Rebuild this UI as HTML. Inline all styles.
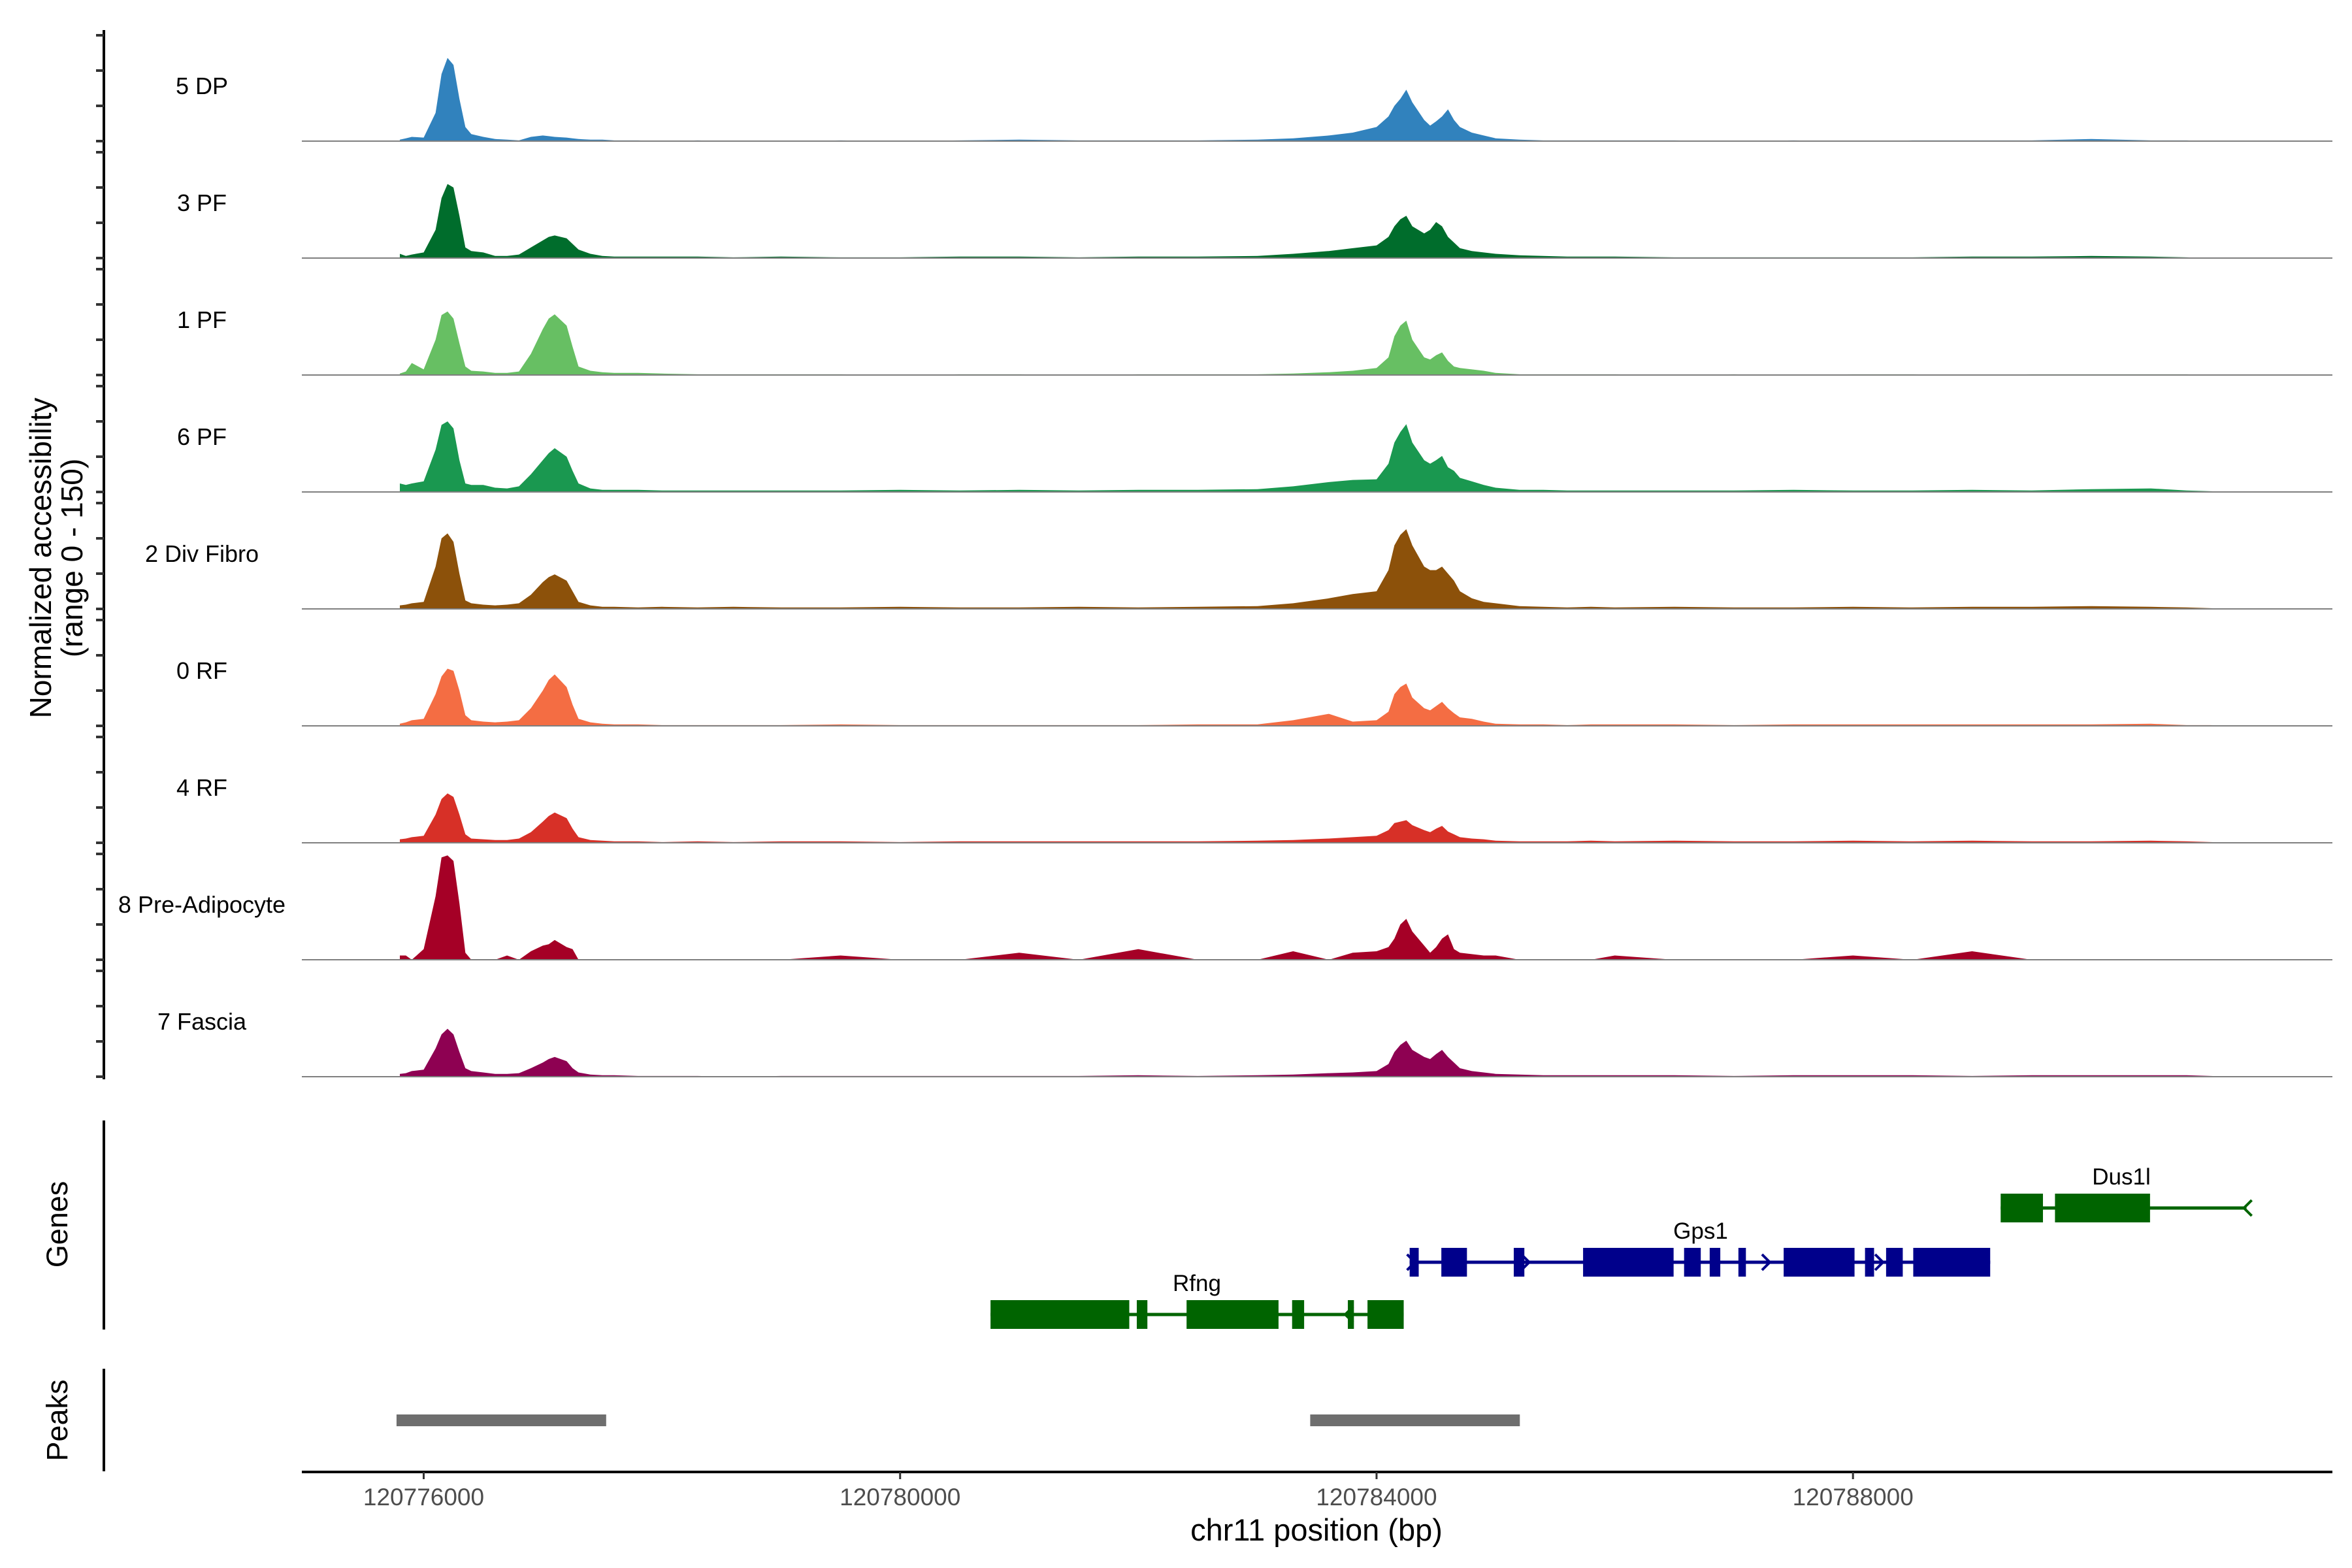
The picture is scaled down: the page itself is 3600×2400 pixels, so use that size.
<!DOCTYPE html>
<html><head><meta charset="utf-8"><style>
html,body{margin:0;padding:0;background:#fff;}
svg{display:block;font-family:"Liberation Sans",sans-serif;}
</style></head><body>
<svg id="chart" width="3600" height="2400" viewBox="0 0 3600 2400" xmlns="http://www.w3.org/2000/svg">
<rect width="3600" height="2400" fill="#fff"/>
<g id="tracks"></g>
<g id="genes"></g>
<g id="peaks"></g>
<g id="axes"></g>
<text transform="translate(78,854) rotate(-90)" text-anchor="middle" font-size="46" fill="#000">Normalized accessibility</text>
<text transform="translate(126,854) rotate(-90)" text-anchor="middle" font-size="46" fill="#000">(range 0 - 150)</text>
<text transform="translate(103,1874) rotate(-90)" text-anchor="middle" font-size="45" fill="#000">Genes</text>
<text transform="translate(103,2174) rotate(-90)" text-anchor="middle" font-size="45" fill="#000">Peaks</text>
<text x="2015" y="2358" text-anchor="middle" font-size="47" fill="#000">chr11 position (bp)</text>
</svg>
<script>
const START = 120775000;
const positions = [800,850,900,1000,1100,1150,1200,1250,1300,1350,1400,1500,1600,1700,1800,1900,2000,2050,2100,2200,2250,2300,2400,2500,2600,2800,3000,3300,3600,4000,4500,5000,5500,6000,6500,7000,7500,8000,8300,8600,8800,9000,9100,9150,9200,9250,9300,9400,9450,9500,9550,9600,9650,9700,9800,9900,10000,10200,10400,10600,10800,11000,11500,12000,12500,13000,13500,14000,14500,15000,15500,15800,16000,16200];
const trackNames = ["5 DP","3 PF","1 PF","6 PF","2 Div Fibro","0 RF","4 RF","8 Pre-Adipocyte","7 Fascia"];
const trackColors = ["#3182bd","#006d2c","#67bf63","#1a9850","#8c510a","#f46d43","#d73027","#a50026","#8e0152"];
const cov5DP = [2,4,6,5,40,95,118,108,60,20,10, 6,3,2,1,6,8,7,6,5,4,3, 2,2,1,1,0,1,0,0,1,0,1, 2,1,1,1,2,4,8,12,20,35,50, 60,73,55,30,22,28,35,45,30,20,12, 8,4,2,1,1,1,1,1,0,1,0, 1,1,1,3,1,1,0,0];
const cov3PF = [6,3,5,8,40,85,105,100,60,15,10, 8,3,3,5,15,25,30,32,28,20,12, 6,3,2,2,2,2,1,2,1,1,2, 2,1,2,2,3,6,10,14,18,30,45, 55,60,45,35,40,51,45,30,22,14,10, 8,6,4,3,2,2,2,1,1,1,1, 1,2,2,3,2,1,0,0];
const cov1PF = [2,5,17,8,50,85,90,80,45,12,6, 5,3,3,5,30,65,80,86,70,40,12, 6,4,3,3,2,1,1,1,1,0,1, 1,0,1,1,1,2,4,6,10,25,55, 70,77,50,25,22,28,32,20,12,10,8, 6,3,1,1,1,1,1,0,1,0,1, 1,0,1,1,1,1,0,0];
const cov6PF = [12,10,12,15,60,95,100,90,45,12,10, 10,6,5,8,25,45,55,62,50,30,12, 5,3,3,3,2,2,2,2,2,3,2, 3,2,3,3,4,8,14,17,18,40,70, 85,96,70,45,40,45,51,35,30,20,15, 10,6,3,3,2,2,2,2,2,3,2, 2,3,2,4,5,2,1,0];
const cov2Div = [5,6,8,10,60,100,107,95,50,12,8, 6,5,6,8,20,38,45,49,40,25,10, 5,3,3,2,3,2,3,2,2,3,2, 2,3,2,3,4,8,15,21,25,55,90, 105,113,90,60,55,55,60,50,40,25,15, 10,8,4,3,2,3,2,3,2,2,3, 2,3,3,4,3,2,1,0];
const cov0RF = [3,5,8,10,45,70,81,78,50,15,8, 6,5,6,8,25,50,65,73,55,30,10, 5,3,2,2,1,1,1,1,2,1,1, 1,1,1,2,2,8,17,6,8,20,45, 55,60,40,25,22,28,34,25,18,12,10, 6,3,2,2,1,2,2,2,1,2,2, 2,2,2,2,3,1,1,0];
const cov4RF = [5,6,8,10,40,62,70,65,40,12,6, 5,4,4,6,15,30,38,43,35,20,8, 4,3,2,2,1,2,1,2,2,1,2, 2,2,2,2,3,4,6,8,10,18,28, 30,32,25,18,15,20,24,16,12,8,6, 5,3,2,2,2,3,2,3,2,2,3, 2,3,2,2,3,2,1,0];
const cov8PA = [6,6,0,15,90,145,148,140,80,10,0, 0,0,6,0,12,20,22,28,18,15,0, 0,0,0,0,0,0,0,0,6,0,0, 10,0,15,0,0,12,0,10,12,18,30, 50,58,40,20,10,18,30,36,15,10,8, 6,6,0,0,0,0,6,0,0,0,6, 0,12,0,0,0,0,0,0];
const cov7Fa = [4,5,8,10,40,60,68,60,35,12,8, 6,4,4,5,12,20,25,28,22,12,6, 3,2,2,1,1,1,0,1,1,1,1, 1,1,2,1,2,3,5,6,8,18,35, 45,51,38,28,25,32,38,28,20,12,8, 6,4,3,2,2,2,2,2,1,2,2, 2,1,2,2,2,2,1,0];
const allCov = [cov5DP,cov3PF,cov1PF,cov6PF,cov2Div,cov0RF,cov4RF,cov8PA,cov7Fa];
const xTicks = [120776000,120780000,120784000,120788000];
const rfngExons = [[120780759,120781924],[120781987,120782076],[120782405,120783177],[120783291,120783392],[120783759,120783810],[120783924,120784228]];
const gps1Exons = [[120784278,120784354],[120784544,120784759],[120785152,120785241],[120785734,120786494],[120786582,120786722],[120786797,120786886],[120787038,120787101],[120787418,120788013],[120788101,120788177],[120788278,120788418],[120788506,120789152]];
const dus1lExons = [[120789240,120789595],[120789696,120790494]];
const dus1lEnd = 120791304;
const peakRanges = [[120775772,120777532],[120783443,120785203]];

const NS = "http://www.w3.org/2000/svg";
function el(tag, attrs, parent){const e=document.createElementNS(NS,tag);for(const k in attrs)e.setAttribute(k,attrs[k]);parent.appendChild(e);return e;}
const xScale = bp => 648.5 + (bp - 120776000) * 0.182308;
const X0 = 462, X1 = 3570;
const baseY = i => 216 + 179 * i;
const yScale = (v, i) => baseY(i) - v * (162 / 150);

const tracksG = document.getElementById('tracks');
const axesG = document.getElementById('axes');
const ya = el('line',{x1:159,y1:46,x2:159,y2:1652,stroke:'#000','stroke-width':4},axesG);


allCov.forEach((vals, i) => {
  const g = el('g',{},tracksG);
  
  
  let d = 'M'+xScale(START+positions[0])+','+baseY(i);
  positions.forEach((p, j) => { d += ' L'+xScale(START+p).toFixed(1)+','+yScale(vals[j]||0,i).toFixed(1); });
  d += ' L'+xScale(START+positions[positions.length-1])+','+baseY(i)+' Z';
  const area = el('path',{d:d,fill:trackColors[i]},g);
  
  
  const bl = el('line',{x1:X0,y1:baseY(i),x2:X1,y2:baseY(i),stroke:'#7f7f7f','stroke-width':2},g);
  
  
  const lab = el('text',{x:309,y:baseY(i)-72,'text-anchor':'middle','font-size':36,fill:'#000'},g);
  lab.textContent = trackNames[i];
  
  
  [0,50,100,150].forEach(v => {
    const t = el('line',{x1:147,y1:yScale(v,i),x2:159,y2:yScale(v,i),stroke:'#333','stroke-width':4},axesG);
    
    
  });
});

const genesG = document.getElementById('genes');
const ga = el('line',{x1:159,y1:1715,x2:159,y2:2035,stroke:'#000','stroke-width':4},axesG);


function drawGene(name, exons, endBp, cy, color, labelX, arrows, dir){
  const g = el('g',{},genesG);
  
  
  const l = el('line',{x1:xScale(exons[0][0]),y1:cy,x2:xScale(endBp),y2:cy,stroke:color,'stroke-width':5},g);
  
  
  exons.forEach(e => {
    const r = el('rect',{x:xScale(e[0]),y:cy-22,width:Math.max(4,xScale(e[1])-xScale(e[0])),height:44,fill:color},g);
    
    
  });
  arrows.forEach(a => {
    const x = xScale(a);
    const d = dir > 0 ? `M${x-8},${cy-12} L${x+4},${cy} L${x-8},${cy+12}` : `M${x+8},${cy-12} L${x-4},${cy} L${x+8},${cy+12}`;
    const p = el('path',{d:d,fill:'none',stroke:color,'stroke-width':4},g);
    
    
  });
  const t = el('text',{x:labelX,y:cy-36,'text-anchor':'middle','font-size':35,fill:'#000'},g);
  t.textContent = name;
  
  
}
drawGene('Rfng', rfngExons, rfngExons[rfngExons.length-1][1], 2012, '#006400', 1832, [120783759], -1);
drawGene('Gps1', gps1Exons, gps1Exons[gps1Exons.length-1][1], 1932, '#00008b', 2603, [120784300,120785260,120787280,120788230], 1);
drawGene('Dus1l', dus1lExons, dus1lEnd, 1849, '#006400', 3247, [dus1lEnd], -1);

const peaksG = document.getElementById('peaks');
const pa = el('line',{x1:159,y1:2095,x2:159,y2:2252,stroke:'#000','stroke-width':4},axesG);


peakRanges.forEach(p => {
  const r = el('rect',{x:xScale(p[0]),y:2165,width:xScale(p[1])-xScale(p[0]),height:18,fill:'#6e6e6e'},peaksG);
  
  
});

const xa = el('line',{x1:X0,y1:2253,x2:X1,y2:2253,stroke:'#000','stroke-width':4},axesG);


xTicks.forEach(t => {
  const x = xScale(t);
  const tk = el('line',{x1:x,y1:2253,x2:x,y2:2264,stroke:'#333','stroke-width':3},axesG);
  
  
  const lb = el('text',{x:x,y:2304,'text-anchor':'middle','font-size':37,fill:'#4d4d4d'},axesG);
  lb.textContent = String(t);
  
  
});
</script>
</body></html>
